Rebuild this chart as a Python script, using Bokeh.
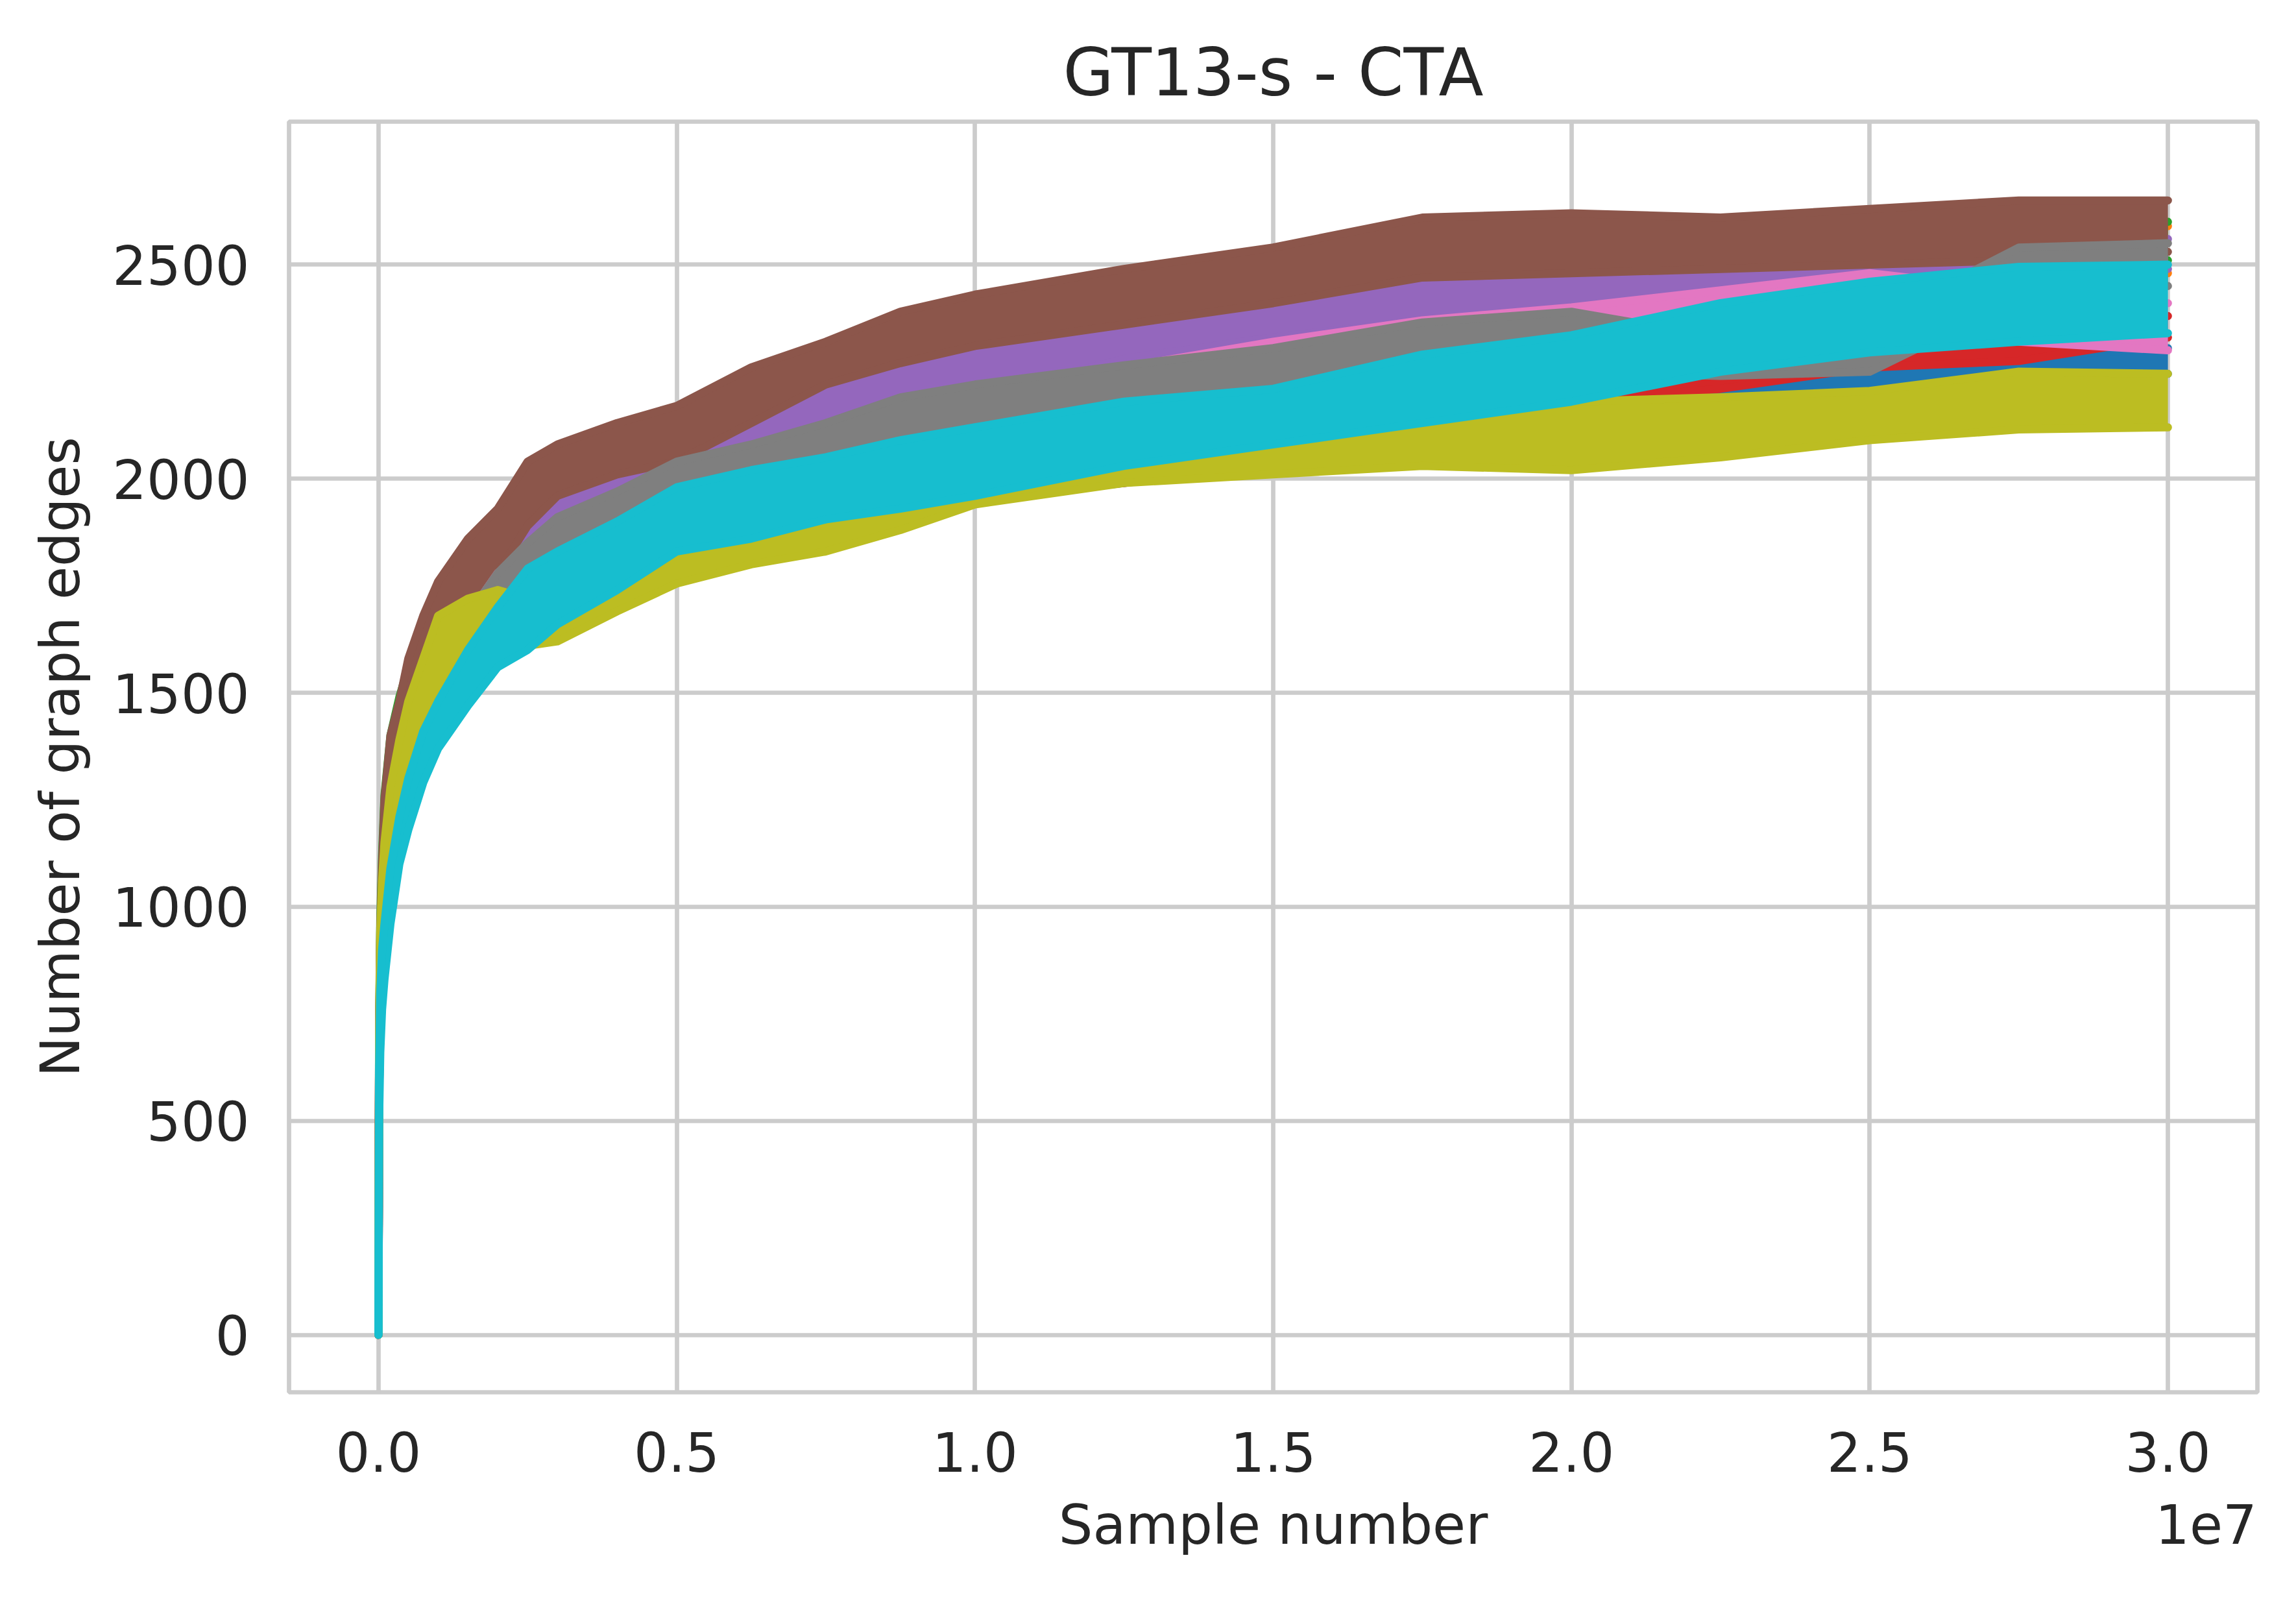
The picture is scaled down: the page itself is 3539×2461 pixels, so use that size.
from bokeh.plotting import figure
from bokeh.models import FixedTicker, Range1d, LinearAxis
from bokeh.embed import file_html
from bokeh.resources import INLINE

# Sample number, in units of 1e7
X = [0, 0.001, 0.003, 0.006, 0.01, 0.02, 0.035, 0.05, 0.075, 0.1, 0.15, 0.2, 0.25, 0.3,
     0.4, 0.5, 0.625, 0.75, 0.875, 1.0, 1.25, 1.5, 1.75, 2.0, 2.25, 2.5, 2.75, 3.0]
X_SCALE = 1e7

series_colors = ["#1f77b4", "#ff7f0e", "#2ca02c", "#d62728", "#9467bd",
                 "#8c564b", "#e377c2", "#7f7f7f", "#bcbd22", "#17becf"]

# lower / upper envelope of each noisy run (number of graph edges)
blue_lo = [0, 560, 720, 840, 940, 1060, 1170, 1250, 1340, 1410, 1510, 1590, 1650, 1700,
           1750, 1790, 1840, 1880, 1920, 1950, 1990, 2030, 2070, 2120, 2160, 2200, 2225, 2245]
blue_hi = [0, 660, 860, 980, 1080, 1200, 1290, 1370, 1460, 1530, 1620, 1700, 1760, 1810,
           1860, 1900, 1950, 1990, 2030, 2060, 2100, 2140, 2180, 2215, 2240, 2255, 2285, 2305]
orange_lo = [0, 580, 780, 930, 1060, 1200, 1320, 1400, 1480, 1540, 1640, 1720, 1800, 1860,
             1950, 2010, 2070, 2130, 2200, 2270, 2320, 2370, 2420, 2430, 2440, 2450, 2460, 2480]
orange_hi = [0, 680, 920, 1070, 1200, 1340, 1440, 1520, 1600, 1680, 1780, 1850, 1930, 1990,
             2070, 2130, 2200, 2260, 2320, 2380, 2440, 2490, 2530, 2540, 2550, 2560, 2570, 2590]
green_lo = [0, 620, 820, 980, 1120, 1270, 1380, 1440, 1500, 1560, 1640, 1700, 1760, 1810,
            1900, 1960, 2010, 2060, 2110, 2150, 2210, 2270, 2380, 2440, 2450, 2460, 2480, 2510]
green_hi = [0, 720, 970, 1120, 1260, 1400, 1490, 1560, 1640, 1700, 1780, 1830, 1880, 1930,
            2020, 2090, 2140, 2170, 2220, 2260, 2320, 2380, 2500, 2530, 2540, 2550, 2570, 2600]
red_lo = [0, 560, 720, 840, 940, 1060, 1180, 1260, 1360, 1430, 1530, 1610, 1680, 1720,
          1760, 1800, 1850, 1890, 1930, 1960, 1990, 2040, 2100, 2180, 2210, 2260, 2275, 2330]
red_hi = [0, 660, 860, 980, 1080, 1200, 1300, 1380, 1470, 1540, 1640, 1720, 1790, 1830,
          1870, 1910, 1960, 2000, 2040, 2070, 2100, 2150, 2210, 2265, 2280, 2330, 2345, 2380]
purple_lo = [0, 580, 770, 900, 1020, 1160, 1280, 1360, 1450, 1520, 1620, 1780, 1840, 1880,
             1930, 1990, 2050, 2110, 2160, 2190, 2280, 2330, 2370, 2360, 2400, 2450, 2470, 2490]
purple_hi = [0, 680, 900, 1040, 1160, 1300, 1400, 1480, 1580, 1660, 1760, 1900, 1950, 1990,
             2060, 2130, 2150, 2220, 2280, 2320, 2410, 2450, 2480, 2480, 2510, 2520, 2550, 2560]
brown_lo = [0, 600, 800, 950, 1100, 1250, 1380, 1450, 1520, 1580, 1680, 1780, 1890, 1960,
            2010, 2040, 2130, 2220, 2270, 2310, 2360, 2410, 2470, 2480, 2490, 2500, 2510, 2530]
brown_hi = [0, 700, 950, 1100, 1250, 1400, 1480, 1580, 1680, 1760, 1860, 1930, 2040, 2080,
            2130, 2170, 2260, 2320, 2390, 2430, 2490, 2540, 2610, 2620, 2610, 2630, 2650, 2650]
pink_lo = [0, 560, 730, 850, 960, 1080, 1200, 1280, 1380, 1450, 1560, 1660, 1720, 1760,
           1830, 1900, 1950, 2010, 2060, 2100, 2160, 2210, 2260, 2290, 2330, 2380, 2320, 2300]
pink_hi = [0, 660, 870, 990, 1100, 1220, 1320, 1400, 1490, 1570, 1680, 1780, 1830, 1880,
           1950, 2010, 2060, 2110, 2160, 2200, 2260, 2320, 2370, 2400, 2440, 2480, 2440, 2410]
gray_lo = [0, 560, 740, 860, 980, 1100, 1200, 1270, 1360, 1430, 1560, 1680, 1730, 1780,
           1850, 1930, 1960, 2030, 2070, 2100, 2160, 2200, 2260, 2250, 2240, 2250, 2420, 2450]
gray_hi = [0, 660, 880, 1000, 1120, 1240, 1330, 1400, 1480, 1560, 1680, 1780, 1850, 1910,
           1970, 2040, 2080, 2130, 2190, 2220, 2265, 2305, 2365, 2390, 2330, 2360, 2540, 2550]
olive_lo = [0, 600, 800, 880, 900, 1050, 1150, 1270, 1380, 1480, 1560, 1590, 1610, 1620,
            1690, 1755, 1800, 1830, 1880, 1940, 1990, 2010, 2030, 2020, 2050, 2090, 2115, 2120]
olive_hi = [0, 700, 940, 1060, 1150, 1280, 1390, 1480, 1580, 1680, 1720, 1740, 1720, 1720,
            1780, 1850, 1880, 1930, 1960, 2020, 2070, 2100, 2140, 2180, 2190, 2205, 2250, 2245]
cyan_lo = [0, 500, 660, 760, 830, 960, 1100, 1180, 1290, 1370, 1470, 1560, 1600, 1660,
           1740, 1830, 1860, 1905, 1930, 1960, 2030, 2080, 2130, 2180, 2250, 2295, 2320, 2340]
cyan_hi = [0, 620, 800, 900, 960, 1090, 1210, 1300, 1410, 1480, 1600, 1700, 1790, 1830,
           1900, 1980, 2020, 2050, 2090, 2120, 2180, 2210, 2290, 2335, 2410, 2460, 2495, 2500]

bands = [(blue_lo, blue_hi), (orange_lo, orange_hi), (green_lo, green_hi), (red_lo, red_hi),
         (purple_lo, purple_hi), (brown_lo, brown_hi), (pink_lo, pink_hi), (gray_lo, gray_hi),
         (olive_lo, olive_hi), (cyan_lo, cyan_hi)]

x_ticks = [0.0, 0.5, 1.0, 1.5, 2.0, 2.5, 3.0]
x_tick_labels = ["0.0", "0.5", "1.0", "1.5", "2.0", "2.5", "3.0"]
y_ticks = [0, 500, 1000, 1500, 2000, 2500]
offset_text = "1e7"
offset_pos = 3.064  # where the scale label sits, in units of 1e7

FONT = "DejaVu Sans"
TXT = "#262626"
GRID = "#cccccc"

W, H = 3520, 2440
p = figure(width=W, height=H, output_backend="svg", toolbar_location=None,
           x_range=Range1d(-1.5e6, 3.15e7), y_range=Range1d(-134, 2834),
           min_border_left=445, min_border_right=W - 3479,
           min_border_top=187, min_border_bottom=H - 2145,
           title="GT13-s - CTA")
p.background_fill_color = "white"
p.border_fill_color = "white"
p.outline_line_color = GRID
p.outline_line_width = 6.7

p.title.text_font = FONT
p.title.text_font_size = "101px"
p.title.text_font_style = "normal"
p.title.text_color = TXT
p.title.align = "center"
p.title.standoff = 33

xs = [v * X_SCALE for v in X]
for (lo, hi), c in zip(bands, series_colors):
    p.varea(x=xs, y1=lo, y2=hi, fill_color=c, fill_alpha=1.0)
    p.line(xs, lo, line_color=c, line_width=12.5, line_join="round", line_cap="round")
    p.line(xs, hi, line_color=c, line_width=12.5, line_join="round", line_cap="round")

p.xaxis.ticker = FixedTicker(ticks=[t * X_SCALE for t in x_ticks])
p.xaxis.major_label_overrides = {t * X_SCALE: s for t, s in zip(x_ticks, x_tick_labels)}
p.yaxis.ticker = FixedTicker(ticks=y_ticks)

# second bottom axis carrying only the scale text "1e7"
sci_axis = LinearAxis(ticker=FixedTicker(ticks=[offset_pos * X_SCALE]),
                      major_label_overrides={offset_pos * X_SCALE: offset_text})
p.add_layout(sci_axis, "below")

for ax in (p.xaxis[0], p.yaxis[0], sci_axis):
    ax.axis_line_color = None
    ax.major_tick_line_color = None
    ax.minor_tick_line_color = None
    ax.major_label_text_font = FONT
    ax.major_label_text_font_size = "83px"
    ax.major_label_text_color = TXT
    ax.axis_label_text_font = FONT
    ax.axis_label_text_font_size = "83px"
    ax.axis_label_text_font_style = "normal"
    ax.axis_label_text_color = TXT

p.xaxis[0].axis_label = "Sample number"
p.yaxis[0].axis_label = "Number of graph edges"
p.xaxis[0].major_label_standoff = 54
p.yaxis[0].major_label_standoff = 55
p.xaxis[0].axis_label_standoff = 31
p.yaxis[0].axis_label_standoff = 28
sci_axis.major_label_standoff = -91

p.xgrid.grid_line_color = GRID
p.ygrid.grid_line_color = GRID
p.xgrid.grid_line_width = 6.7
p.ygrid.grid_line_width = 6.7

open("out.html", "w").write(file_html(p, INLINE))
